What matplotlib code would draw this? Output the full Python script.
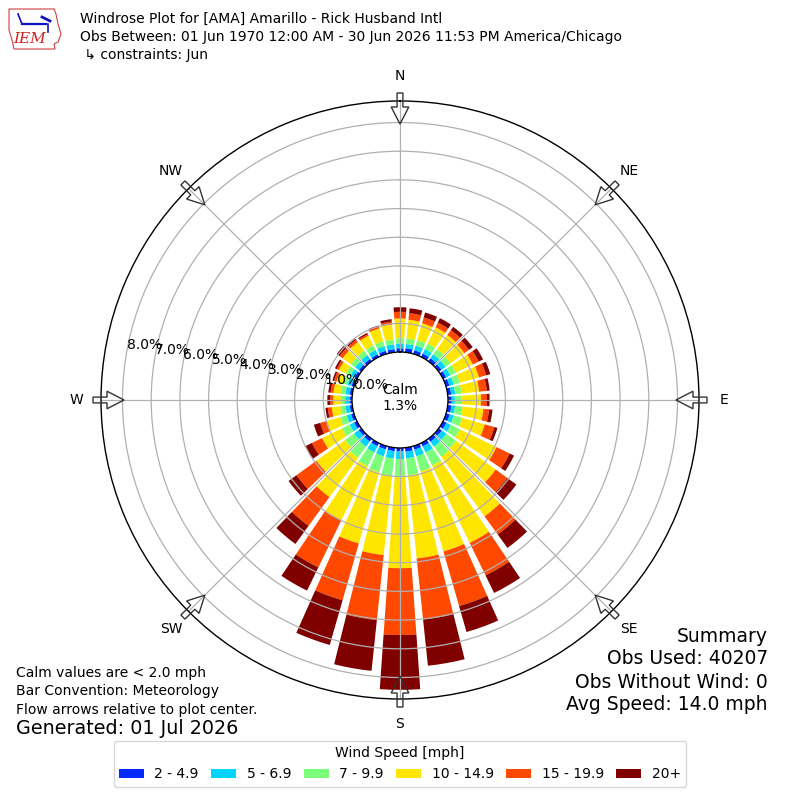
import numpy as np
import matplotlib
matplotlib.use("Agg")
import matplotlib.pyplot as plt
from matplotlib.patches import Polygon

# ---------------- data (cumulative %) ----------------
directions = [0, 10, 20, 30, 40, 50, 60, 70, 80, 90, 100, 110,
              120, 130, 140, 150, 160, 170, 180, 190, 200, 210, 220, 230,
              240, 250, 260, 270, 280, 290, 300, 310, 320, 330, 340, 350]

bin_labels = ["2 - 4.9", "5 - 6.9", "7 - 9.9", "10 - 14.9", "15 - 19.9", "20+"]

cum_2_49 = [0.13, 0.14, 0.13, 0.13, 0.13, 0.12, 0.12, 0.12, 0.12, 0.13, 0.13, 0.13,
            0.13, 0.13, 0.13, 0.13, 0.13, 0.14, 0.12, 0.12, 0.12, 0.12, 0.12, 0.11,
            0.11, 0.10, 0.09, 0.09, 0.09, 0.09, 0.10, 0.10, 0.10, 0.10, 0.11, 0.11]
cum_5_69 = [0.30, 0.29, 0.30, 0.30, 0.30, 0.29, 0.28, 0.28, 0.26, 0.24, 0.26, 0.28,
            0.30, 0.33, 0.34, 0.36, 0.37, 0.37, 0.39, 0.38, 0.37, 0.36, 0.34, 0.31,
            0.28, 0.26, 0.24, 0.24, 0.24, 0.24, 0.25, 0.26, 0.27, 0.27, 0.28, 0.28]
cum_7_99 = [0.48, 0.49, 0.50, 0.52, 0.52, 0.50, 0.50, 0.50, 0.48, 0.48, 0.52, 0.58,
            0.65, 0.74, 0.78, 0.88, 0.92, 0.96, 1.00, 0.98, 0.95, 0.90, 0.82, 0.70,
            0.58, 0.50, 0.42, 0.39, 0.40, 0.40, 0.42, 0.44, 0.45, 0.45, 0.46, 0.45]
cum_10_149 = [1.17, 1.14, 1.11, 1.15, 1.13, 1.10, 1.15, 1.19, 1.10, 1.15, 1.25, 1.40,
              2.07, 2.45, 3.34, 3.87, 3.82, 3.88, 4.19, 3.76, 3.53, 3.00, 2.51, 1.93,
              1.35, 0.98, 0.72, 0.65, 0.66, 0.63, 0.70, 0.80, 0.82, 0.82, 0.92, 0.97]
cum_15_199 = [1.40, 1.37, 1.32, 1.33, 1.34, 1.30, 1.38, 1.45, 1.37, 1.36, 1.45, 1.75,
              2.58, 2.95, 4.12, 5.13, 5.80, 6.02, 6.52, 6.04, 5.59, 4.82, 3.75, 2.79,
              1.74, 1.22, 0.86, 0.76, 0.76, 0.72, 0.78, 0.93, 0.92, 0.88, 0.99, 1.07]
cum_20p = [1.56, 1.54, 1.50, 1.50, 1.48, 1.46, 1.55, 1.60, 1.47, 1.45, 1.57, 1.86,
           2.75, 3.34, 4.70, 5.81, 6.74, 7.64, 8.43, 7.82, 7.21, 5.72, 4.53, 3.13,
           2.00, 1.45, 0.94, 0.86, 0.84, 0.78, 0.85, 1.05, 0.97, 0.93, 1.03, 1.16]

calm_pct = "1.3%"
ring_values = [0, 1, 2, 3, 4, 5, 6, 7, 8]
compass = [("N", 0), ("NE", 45), ("E", 90), ("SE", 135),
           ("S", 180), ("SW", 225), ("W", 270), ("NW", 315)]

title_lines = ["Windrose Plot for [AMA] Amarillo - Rick Husband Intl",
               "Obs Between: 01 Jun 1970 12:00 AM - 30 Jun 2026 11:53 PM America/Chicago",
               " \u21b3 constraints: Jun"]
left_notes = ["Calm values are < 2.0 mph", "Bar Convention: Meteorology",
              "Flow arrows relative to plot center."]
generated = "Generated: 01 Jul 2026"
summary_lines = ["Summary", "Obs Used: 40207", "Obs Without Wind: 0",
                 "Avg Speed: 14.0 mph"]

colors = ["#002aff", "#00d4ff", "#7bff7b", "#ffe600", "#ff4800", "#800000"]

# ---------------- figure ----------------
fig = plt.figure(figsize=(8, 8), dpi=100)
ax = fig.add_axes([0.12625, 0.12625, 0.7475, 0.7475], projection="polar")
ax.set_theta_zero_location("N")
ax.set_theta_direction(-1)
ax.set_rorigin(-1.673)
ax.set_ylim(0, 8.75)

theta = np.radians(directions)
cums = [cum_2_49, cum_5_69, cum_7_99, cum_10_149, cum_15_199, cum_20p]
handles = []
prev = np.zeros(len(directions))
for lab, col, c in zip(bin_labels, colors, cums):
    c = np.array(c)
    b = ax.bar(theta, c - prev, bottom=prev, width=np.radians(8.0),
               color=col, linewidth=0, label=lab, zorder=1)
    handles.append(b)
    prev = c

ax.set_thetagrids([0, 45, 90, 135, 180, 225, 270, 315], labels=[""] * 8)
ax.set_rgrids(ring_values[1:], labels=[""] * 8)
ax.grid(True, color="#b0b0b0", linewidth=0.9)
ax.spines["polar"].set_linewidth(1.0)
ax.spines["inner"].set_linewidth(1.0)
ax.tick_params(length=0)

for v in ring_values:
    ax.text(np.radians(280), v, f"{v:.1f}%", ha="left", va="bottom",
            fontsize=10, zorder=5, clip_on=False)

for name, ang in compass:
    ax.text(np.radians(ang), 9.62, name, ha="center", va="center",
            fontsize=10, clip_on=False)

# ---------------- overlay (pixel coordinates) ----------------
ov = fig.add_axes([0, 0, 1, 1], zorder=10)
ov.set_xlim(0, 800)
ov.set_ylim(800, 0)
ov.axis("off")
ov.patch.set_alpha(0)

cx, cy = 400, 400
r_tail, r_head, r_tip = 307.0, 293.0, 276.0
hw_shaft, hw_head = 2.9, 8.8
for name, ang in compass:
    a = np.radians(ang)
    ox, oy = np.sin(a), -np.cos(a)      # outward unit vector (screen)
    px, py = np.cos(a), np.sin(a)       # perpendicular
    def P(r, w):
        return (cx + ox * r + px * w, cy + oy * r + py * w)
    pts = [P(r_tail, -hw_shaft), P(r_head, -hw_shaft), P(r_head, -hw_head),
           P(r_tip, 0), P(r_head, hw_head), P(r_head, hw_shaft), P(r_tail, hw_shaft)]
    ov.add_patch(Polygon(pts, closed=True, facecolor="none",
                         edgecolor="#333333", linewidth=1.0))

ov.text(400, 398, "Calm\n" + calm_pct, ha="center", va="center", fontsize=10)

for i, t in enumerate(title_lines):
    ov.text(80, 19 + 18 * i, t, ha="left", va="center", fontsize=10)

for i, t in enumerate(left_notes):
    ov.text(16, 673 + 18.5 * i, t, ha="left", va="center", fontsize=10)
ov.text(16, 729, generated, ha="left", va="center", fontsize=13.8)

for i, t in enumerate(summary_lines):
    ov.text(768, 636 + 23 * i, t, ha="right", va="center", fontsize=13.5)

# simple IEM logo
ov.add_patch(Polygon([(9, 9), (54, 9), (56, 14), (58, 24), (61, 34), (58, 42),
                      (54, 44), (55, 49), (14, 49), (12, 40), (9, 30)],
                     closed=True, facecolor="none", edgecolor="#d04040", linewidth=0.8))
ov.plot([22, 46], [24, 24], color="#1010c0", linewidth=1.6)
ov.plot([18, 22], [14, 24], color="#1010c0", linewidth=1.2)
ov.plot([42, 50], [17, 21], color="#1010c0", linewidth=2.0)
ov.plot([48, 48], [24, 32], color="#1010c0", linewidth=1.2)
ov.text(30, 39, "IEM", ha="center", va="center", fontsize=11, color="#d02020",
        family="DejaVu Serif", style="italic")

fig.legend(handles, bin_labels, loc="upper center", bbox_to_anchor=(0.5, 0.074),
           borderaxespad=0.0, ncol=6, title="Wind Speed [mph]", fontsize=10,
           title_fontsize=10, handlelength=1.8, handleheight=0.65,
           handletextpad=0.75, columnspacing=0.9, fancybox=True,
           edgecolor="#cccccc")

fig.savefig("out.png", dpi=100)
